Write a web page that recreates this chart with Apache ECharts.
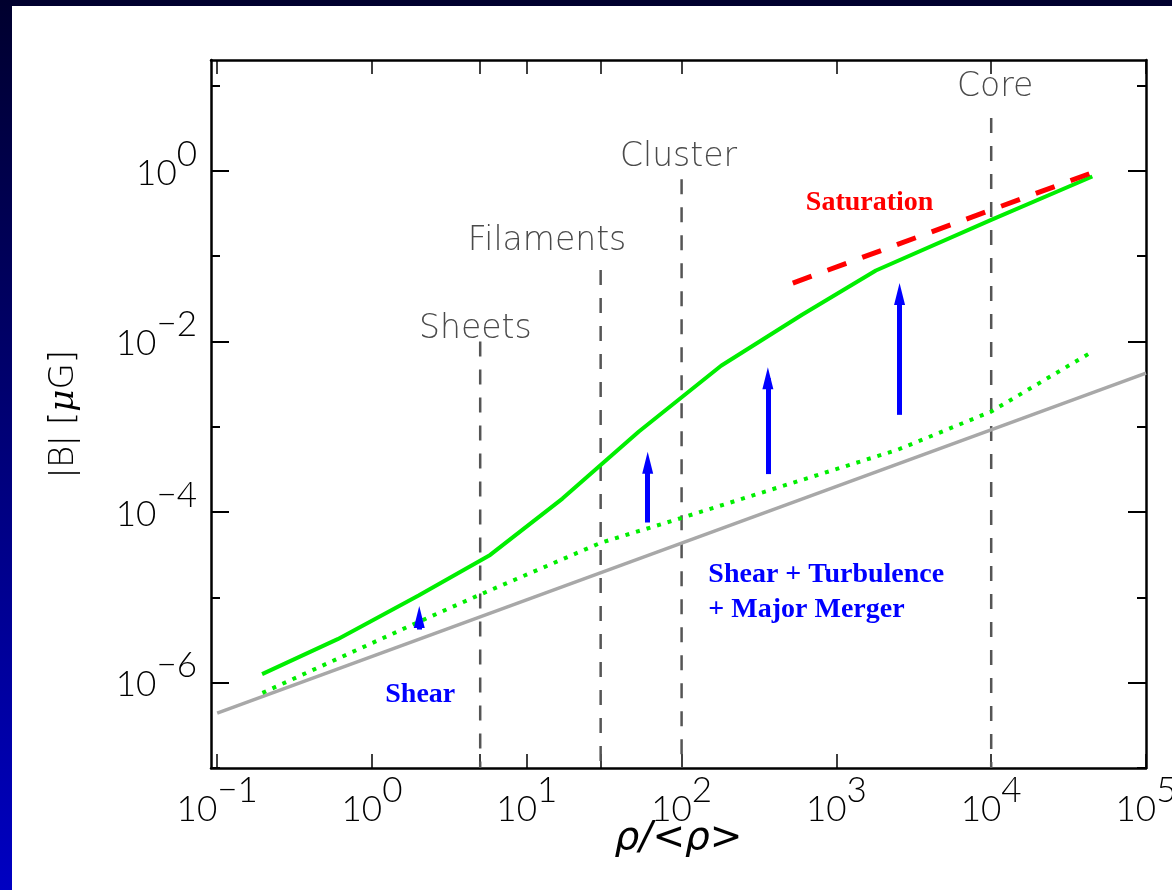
<!DOCTYPE html>
<html>
<head>
<meta charset="utf-8">
<script src="https://cdn.jsdelivr.net/npm/echarts@6/dist/echarts.min.js"></script>
<style>
html, body { margin: 0; padding: 0; width: 1172px; height: 890px; overflow: hidden; background: linear-gradient(#00002e, #0000c2); }
#main { position: absolute; left: 12px; top: 6px; width: 1160px; height: 884px; background: #fff; }
</style>
</head>
<body>
<div id="main"></div>
<script>
// axes
var xMin = 0.0912, xMax = 100000;
var yMin = 1e-7, yMax = 19.95;
var xTicks = [0.1, 1, 5, 10, 30, 100, 1000, 10000, 100000];
var xLabels = [0.1, 1, 10, 100, 1000, 10000, 100000];
var yMajor = [1e-6, 1e-4, 1e-2, 1];
var yMinor = [1e-7, 1e-5, 1e-3, 1e-1, 10];

// gray reference line
var grayRho = [0.1, 100000];
var grayB = [4.4e-7, 4.26e-3];

// green dotted (shear)
var dotRho = [0.196, 2.02, 4.94, 30, 99, 2500, 10000, 45000];
var dotB = [7.6e-7, 5.2e-6, 1.07e-5, 4.36e-5, 8.5e-5, 5.4e-4, 1.51e-3, 7.6e-3];

// green solid (shear + turbulence + major merger)
var solidRho = [0.195, 0.6, 2, 5.8, 17, 53, 180, 600, 1800, 10000, 45000];
var solidB = [1.26e-6, 3.24e-6, 1.05e-5, 3.15e-5, 1.44e-4, 8.8e-4, 5.19e-3, 2.06e-2, 6.8e-2, 0.267, 0.86];

// saturation
var satRho = [523, 49000];
var satB = [0.0484, 1.01];

// structures
var regionNames = ['Sheets', 'Filaments', 'Cluster', 'Core'];
var regionRho = [5, 30, 100, 10000];
var regionTop = [0.01, 0.069, 0.8, 4.16];
var regionLabelRho = [4.65, 13.5, 95.5, 10600];
var regionLabelB = [0.0153, 0.164, 1.59, 10.5];

// arrows
var arrowRho = [2.02, 60.4, 361, 2560];
var arrowFrom = [4.2e-6, 7.55e-5, 2.79e-4, 1.38e-3];
var arrowTo = [5.9e-6, 3.8e-4, 3.7e-3, 0.036];

// notes
var noteText = ['Saturation', 'Shear', 'Shear + Turbulence', '+ Major Merger'];
var noteRho = [1640, 2.05, 147.7, 147.7];
var noteB = [0.446, 7.6e-7, 1.94e-5, 7.55e-6];
var noteColor = ['#ff0000', '#0000ff', '#0000ff', '#0000ff'];
var notePos = ['inside', 'inside', 'right', 'right'];

function zip(a, b) { return a.map(function (v, i) { return [v, b[i]]; }); }

function expLabel(v) {
    var e = Math.round(Math.log10(v));
    return '{b|10}{s|' + (e < 0 ? '\u2212' + (-e) : e) + '}';
}

var tickFont = { fontFamily: 'Lato', fontWeight: 300, fontSize: 35, lineHeight: 36, color: '#000' };
var rich = {
    b: Object.assign({}, tickFont, { padding: [19, 0, 0, 0] }),
    s: Object.assign({}, tickFont, { padding: [0, 0, 19, 0] })
};

function xAxis(pos, showLabel) {
    return {
        type: 'log', position: pos, min: xMin, max: xMax,
        axisLine: { show: true, onZero: false, lineStyle: { color: '#000', width: 2.5 } },
        axisTick: { show: true, inside: true, length: 14, customValues: xTicks, lineStyle: { color: '#000', width: 1.5 } },
        axisLabel: showLabel ? { show: true, customValues: xLabels, margin: 14, formatter: expLabel, rich: rich } : { show: false },
        splitLine: { show: false },
        name: showLabel ? '\u03c1/<\u03c1>' : '',
        nameLocation: 'middle', nameGap: 51, nameMoveOverlap: false,
        nameTextStyle: { fontFamily: 'DejaVu Sans', fontWeight: 200, fontStyle: 'italic', fontSize: 39, color: '#000' }
    };
}

function yAxis(pos, major, showLine, showLabel) {
    return {
        type: 'log', position: pos, min: yMin, max: yMax,
        axisLine: { show: showLine, onZero: false, lineStyle: { color: '#000', width: 2.5 } },
        axisTick: { show: true, inside: true, length: major ? 18 : 9, customValues: major ? yMajor : yMinor, lineStyle: { color: '#000', width: 2 } },
        axisLabel: showLabel ? { show: true, customValues: yMajor, margin: 14, padding: [0, 0, 14, 0], formatter: expLabel, rich: rich } : { show: false },
        splitLine: { show: false },
        name: showLabel ? '{t|\u01c0B\u01c0 [}{m|\u03bc}{t|G]}' : '',
        nameLocation: 'middle', nameGap: 130, nameRotate: 90, nameMoveOverlap: false,
        nameTextStyle: {
            rich: {
                t: { fontFamily: 'DejaVu Sans', fontWeight: 200, fontSize: 34, color: '#000' },
                m: { fontFamily: 'DejaVu Serif', fontStyle: 'italic', fontSize: 34, color: '#000' }
            }
        }
    };
}

var series = [];

regionRho.forEach(function (r, i) {
    series.push({
        type: 'line', data: [[r, regionTop[i]], [r, yMin]], symbol: 'none', silent: true, z: 1,
        lineStyle: { color: '#555', width: 2.5, type: [15, 13] }
    });
});

series.push({
    type: 'line', data: zip(grayRho, grayB), symbol: 'none', silent: true, z: 2,
    lineStyle: { color: '#a8a8a8', width: 3.5 }
});
series.push({
    type: 'line', data: zip(dotRho, dotB), symbol: 'none', silent: true, z: 3,
    lineStyle: { color: '#00ee00', width: 4, type: [4, 7] }
});
series.push({
    type: 'line', data: zip(solidRho, solidB), symbol: 'none', silent: true, z: 3,
    lineStyle: { color: '#00ee00', width: 4 }
});
series.push({
    type: 'line', data: zip(satRho, satB), symbol: 'none', silent: true, z: 4,
    lineStyle: { color: '#ff0000', width: 5, type: [20, 17] }
});

// arrows
series.push({
    type: 'line', data: [], silent: true, z: 5,
    markLine: {
        silent: true, animation: false,
        symbol: ['none', 'triangle'],
        label: { show: false },
        lineStyle: { color: '#0000ff', width: 5, type: 'solid' },
        emphasis: { disabled: true },
        data: arrowRho.map(function (r, i) {
            return [
                { coord: [r, arrowFrom[i]], symbol: 'none' },
                { coord: [r, arrowTo[i]], symbol: 'triangle', symbolSize: [11, 22] }
            ];
        })
    }
});

// structure labels
series.push({
    type: 'scatter', symbolSize: 1, silent: true, z: 6,
    itemStyle: { color: 'rgba(0,0,0,0)', opacity: 1 },
    data: regionNames.map(function (n, i) { return { name: n, value: [regionLabelRho[i], regionLabelB[i]] }; }),
    label: { show: true, position: 'inside', offset: [0, 4], formatter: '{b}', fontFamily: 'DejaVu Sans', fontWeight: 200, fontSize: 33, color: '#4a4a4a' }
});

// notes
series.push({
    type: 'scatter', symbolSize: 1, silent: true, z: 6,
    itemStyle: { color: 'rgba(0,0,0,0)', opacity: 1 },
    data: noteText.map(function (n, i) {
        return {
            name: n, value: [noteRho[i], noteB[i]],
            label: { position: notePos[i], distance: 0, color: noteColor[i] }
        };
    }),
    label: { show: true, offset: [0, 2], formatter: '{b}', fontFamily: 'Liberation Serif', fontWeight: 'bold', fontSize: 28 }
});

var chart = echarts.init(document.getElementById('main'));
chart.setOption({
    animation: false,
    backgroundColor: '#fff',
    grid: { left: 199, right: 26, top: 54, bottom: 122, containLabel: false, outerBoundsMode: 'none' },
    xAxis: [xAxis('bottom', true), xAxis('top', false)],
    yAxis: [yAxis('left', true, true, true), yAxis('left', false, false, false),
            yAxis('right', true, true, false), yAxis('right', false, false, false)],
    series: series
});
</script>
</body>
</html>
